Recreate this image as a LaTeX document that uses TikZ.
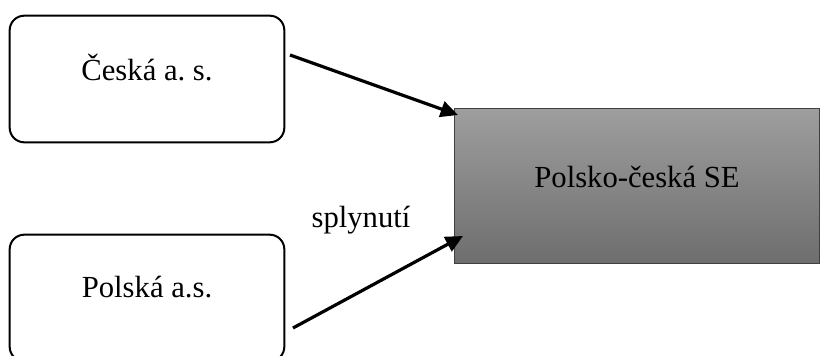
\documentclass[tikz,border=0pt]{standalone}
\usepackage{fontspec}
\setmainfont{Liberation Serif}
\usetikzlibrary{arrows.meta}
\frenchspacing

\begin{document}
\begin{tikzpicture}[x=0.75pt,y=-0.75pt,
  font=\fontsize{23}{27}\selectfont,
  firma/.style={draw,line width=1.5pt,rounded corners=11pt,text depth=17pt,
    minimum width=206pt,minimum height=95pt,inner sep=0pt},
  spolecnost/.style={draw=black!75,line width=0.8pt,top color=black!38,
    bottom color=black!57,text depth=14pt,
    minimum width=274pt,minimum height=116pt,inner sep=0pt},
  sipka/.style={line width=2.4pt,-{Triangle[length=13pt,width=12pt]}}]
  \useasboundingbox (0,0) rectangle (821,356);
  % the two companies and the merged one
  \node[firma] (cz) at (147,79) {Česká a. s.};
  \node[firma] (pl) at (147,298) {Polská a.s.};
  \node[spolecnost] (se) at (637,186) {Polsko-česká SE};
  % ends of the arrows
  \coordinate (cz-out) at (290,55);
  \coordinate (pl-out) at (293,328);
  \coordinate (se-in1) at (458,115);
  \coordinate (se-in2) at (463,236);
  \draw[sipka] (cz-out) -- (se-in1);
  \draw[sipka] (pl-out) -- (se-in2);
  \node (splynuti) at (361,220) {splynutí};
\end{tikzpicture}
\end{document}
